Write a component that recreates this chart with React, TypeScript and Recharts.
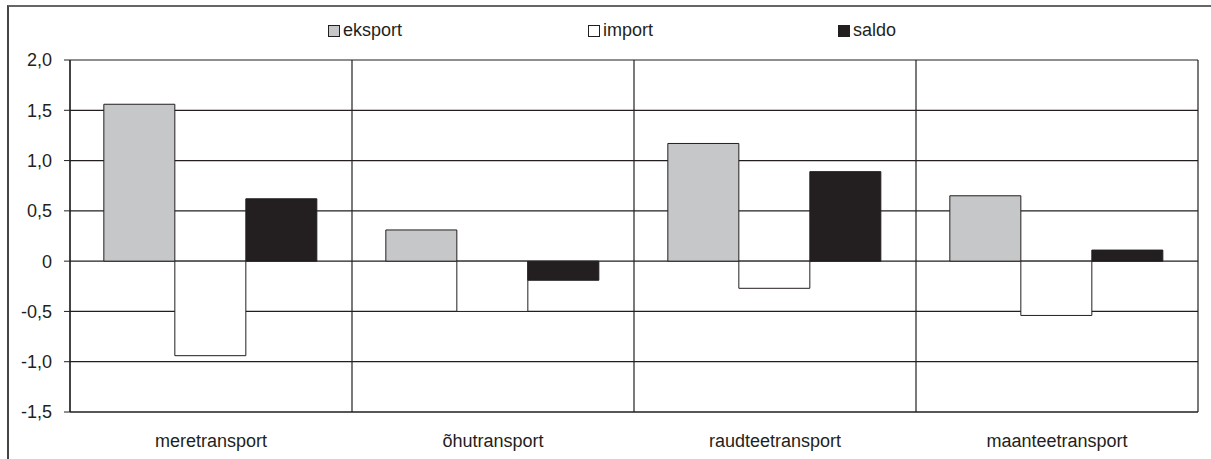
import React from 'react';
import { BarChart, Bar, XAxis, YAxis, CartesianGrid, Legend } from 'recharts';

const categories = ['meretransport', 'õhutransport', 'raudteetransport', 'maanteetransport'];
const eksportValues = [1.56, 0.31, 1.17, 0.65];
const importValues = [-0.94, -0.5, -0.27, -0.54];
const saldoValues = [0.62, -0.19, 0.89, 0.11];
const yTicks = [-1.5, -1, -0.5, 0, 0.5, 1, 1.5, 2];
const seriesNames = ['eksport', 'import', 'saldo'];

const DARK = '#231F20';
const FONT = '"Liberation Sans", Arial, sans-serif';
const seriesFill: Record<string, string> = { eksport: '#C6C7C9', import: '#FFFFFF', saldo: DARK };
const legendLeft = [328, 588, 838];

const data = categories.map((name, i) => ({
  name,
  eksport: eksportValues[i],
  import: importValues[i],
  saldo: saldoValues[i],
}));

const fmt = (v: number) => (v === 0 ? '0' : v.toFixed(1).replace('.', ','));

const renderLegend = () => (
  <div style={{ position: 'relative', width: 1211, height: 0 }}>
    {seriesNames.map((n, i) => (
      <div
        key={n}
        style={{
          position: 'absolute',
          left: legendLeft[i],
          top: 20,
          display: 'flex',
          alignItems: 'center',
          fontFamily: FONT,
          fontSize: 18,
          color: DARK,
          lineHeight: '20px',
          whiteSpace: 'nowrap',
        }}
      >
        <span
          style={{
            display: 'inline-block',
            width: 10,
            height: 10,
            background: seriesFill[n],
            border: `1px solid ${DARK}`,
            marginRight: 3,
            marginTop: 1,
          }}
        />
        <span>{n}</span>
      </div>
    ))}
  </div>
);

export default function App() {
  return (
    <div style={{ position: 'absolute', left: 0, top: 0, width: 1211, height: 459, background: '#fff', overflow: 'hidden' }}>
      <div
        style={{
          position: 'absolute',
          left: 7,
          top: 5,
          width: 1204,
          height: 454,
          boxSizing: 'border-box',
          borderTop: '2px solid #666',
          borderLeft: '2px solid #444',
        }}
      />
      <div style={{ position: 'absolute', left: 0, top: 0 }}>
        <BarChart
          width={1211}
          height={459}
          data={data}
          margin={{ top: 60, right: 13, bottom: 17, left: 8 }}
          barCategoryGap="12%"
          barGap={0}
        >
          <CartesianGrid
            stroke={DARK}
            strokeWidth={1.2}
            verticalCoordinatesGenerator={({ offset }: any) => {
              const pts = categories.map((_, i) => offset.left + (offset.width * i) / categories.length);
              pts.push(offset.left + offset.width);
              return pts;
            }}
          />
          <XAxis
            dataKey="name"
            tickLine={false}
            tickSize={0}
            tickMargin={22}
            height={30}
            axisLine={{ stroke: DARK, strokeWidth: 1.2 }}
            tick={{ fontSize: 18, fill: DARK, fontFamily: FONT }}
            interval={0}
          />
          <YAxis
            domain={[-1.5, 2]}
            ticks={yTicks}
            interval={0}
            width={62}
            tickSize={6}
            tickMargin={12}
            tickFormatter={fmt}
            axisLine={{ stroke: DARK, strokeWidth: 1.2 }}
            tickLine={{ stroke: DARK }}
            tick={{ fontSize: 18, fill: DARK, fontFamily: FONT }}
          />
          <Legend verticalAlign="top" content={renderLegend} wrapperStyle={{ top: 0, left: 0, width: 1211, height: 0 }} />
          <Bar dataKey="eksport" name="eksport" fill={seriesFill.eksport} stroke={DARK} strokeWidth={1} isAnimationActive={false} />
          <Bar dataKey="import" name="import" fill={seriesFill.import} stroke={DARK} strokeWidth={1} isAnimationActive={false} />
          <Bar dataKey="saldo" name="saldo" fill={seriesFill.saldo} stroke={DARK} strokeWidth={1} isAnimationActive={false} />
        </BarChart>
      </div>
    </div>
  );
}
